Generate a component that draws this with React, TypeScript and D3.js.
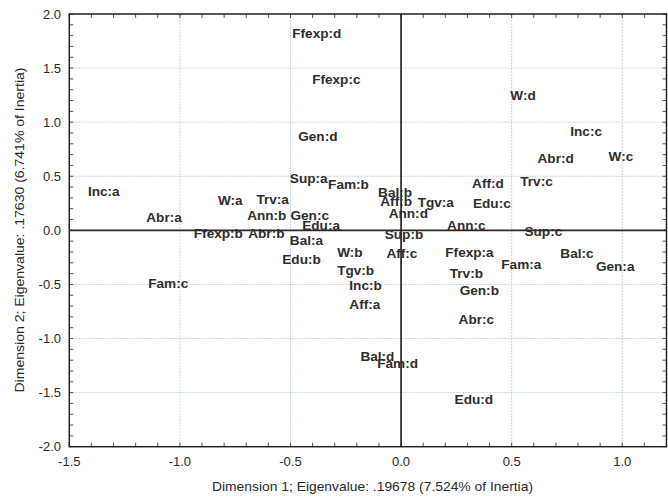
import React from "react";
import * as d3 from "d3";

const labels = [
  "Ffexp:d","Ffexp:c","Gen:d","Sup:a","Fam:b","Bal:b","Aff:b","Tgv:a","Ann:d","W:a",
  "Trv:a","Ann:b","Gen:c","Edu:a","Ffexp:b","Abr:b","Bal:a","Sup:b","Inc:a","Abr:a",
  "Fam:c","Edu:b","W:b","Aff:c","Tgv:b","Inc:b","Aff:a","Bal:d","Fam:d","W:d",
  "Inc:c","Abr:d","W:c","Aff:d","Trv:c","Edu:c","Ann:c","Sup:c","Ffexp:a","Bal:c",
  "Fam:a","Gen:a","Trv:b","Gen:b","Abr:c","Edu:d"
];
const dim1 = [
  -0.492,-0.402,-0.465,-0.503,-0.33,-0.104,-0.094,0.075,-0.056,-0.828,
  -0.654,-0.696,-0.5,-0.447,-0.937,-0.691,-0.503,-0.074,-1.416,-1.152,
  -1.143,-0.537,-0.289,-0.066,-0.289,-0.234,-0.234,-0.184,-0.108,0.494,
  0.765,0.617,0.938,0.321,0.539,0.325,0.208,0.558,0.2,0.72,
  0.453,0.881,0.22,0.265,0.26,0.242
];
const dim2 = [
  1.82,1.398,0.865,0.48,0.425,0.351,0.264,0.259,0.157,0.28,
  0.289,0.135,0.135,0.049,-0.028,-0.028,-0.09,-0.037,0.363,0.117,
  -0.49,-0.268,-0.207,-0.213,-0.373,-0.506,-0.681,-1.168,-1.229,1.25,
  0.918,0.665,0.68,0.434,0.449,0.25,0.043,-0.013,-0.207,-0.213,
  -0.311,-0.336,-0.397,-0.552,-0.82,-1.562
];
const xTicks = ["-1.5", "-1.0", "-0.5", "0.0", "0.5", "1.0"];
const yTicks = ["2.0", "1.5", "1.0", "0.5", "0.0", "-0.5", "-1.0", "-1.5", "-2.0"];
const xTitle = "Dimension 1; Eigenvalue: .19678 (7.524% of Inertia)";
const yTitle = "Dimension 2; Eigenvalue: .17630 (6.741% of Inertia)";

export default function App() {
  const W = 668, H = 497;
  const left = 69.3, right = 666.5, top = 14, bottom = 446.7;
  const x = d3.scaleLinear().domain([-1.5, 1.2]).range([left, right]);
  const y = d3.scaleLinear().domain([-2, 2]).range([bottom, top]);
  const minorX = d3.range(-15, 13).map((v) => v / 10);
  const minorY = d3.range(-20, 21).map((v) => v / 10);
  const font = "'Liberation Sans', Arial, sans-serif";
  const textCol = "#2a2a2a";
  return (
    <svg width={W} height={H} style={{ position: "absolute", left: 0, top: 0, background: "#fff" }}>
      <rect x={0} y={0} width={W} height={H} fill="#fff" />
      {/* grid */}
      {xTicks.map(Number).filter((v) => v > -1.5).map((v) => (
        <line key={"gx" + v} x1={x(v)} x2={x(v)} y1={top} y2={bottom} stroke="#c4d8e6" strokeWidth={1} strokeDasharray="2,1" />
      ))}
      {yTicks.map(Number).filter((v) => v < 2 && v > -2).map((v) => (
        <line key={"gy" + v} x1={left} x2={right} y1={y(v)} y2={y(v)} stroke="#c4d8e6" strokeWidth={1} strokeDasharray="2,1" />
      ))}
      {/* minor ticks */}
      {minorX.map((v) => (
        <g key={"mx" + v}>
          <line x1={x(v)} x2={x(v)} y1={bottom} y2={bottom - 4} stroke="#555" strokeWidth={1} />
          <line x1={x(v)} x2={x(v)} y1={top} y2={top + 4} stroke="#555" strokeWidth={1} />
        </g>
      ))}
      {minorY.map((v) => (
        <g key={"my" + v}>
          <line x1={left} x2={left + 4} y1={y(v)} y2={y(v)} stroke="#555" strokeWidth={1} />
          <line x1={right} x2={right - 4} y1={y(v)} y2={y(v)} stroke="#555" strokeWidth={1} />
        </g>
      ))}
      {/* frame */}
      <rect x={left} y={top} width={right - left} height={bottom - top} fill="none" stroke="#222" strokeWidth={1.5} />
      {/* zero lines */}
      <line x1={left} x2={right} y1={y(0)} y2={y(0)} stroke="#3a241c" strokeWidth={1.6} />
      <line x1={x(0)} x2={x(0)} y1={top} y2={bottom} stroke="#1e1a18" strokeWidth={1.6} />
      {/* tick labels */}
      {xTicks.map((t) => (
        <text key={"tx" + t} x={x(Number(t))} y={466} textAnchor="middle" fontFamily={font} fontSize={13} fill={textCol}>
          {t}
        </text>
      ))}
      {yTicks.map((t) => (
        <text key={"ty" + t} x={61} y={y(Number(t)) + 4.5} textAnchor="end" fontFamily={font} fontSize={13} fill={textCol}>
          {t}
        </text>
      ))}
      {/* titles */}
      <text x={372.5} y={491} textAnchor="middle" fontFamily={font} fontSize={13} fill={textCol} textLength={321} lengthAdjust="spacingAndGlyphs">{xTitle}</text>
      <text transform={`translate(24,${230}) rotate(-90)`} textAnchor="middle" fontFamily={font} fontSize={13} fill={textCol} textLength={325} lengthAdjust="spacingAndGlyphs">{yTitle}</text>
      {/* point labels */}
      {labels.map((lab, i) => (
        <text key={lab} x={x(dim1[i])} y={y(dim2[i]) + 4.7} fontFamily={font} fontSize={13.6} fontWeight="bold" fill="#2e2e2e">
          {lab}
        </text>
      ))}
    </svg>
  );
}
